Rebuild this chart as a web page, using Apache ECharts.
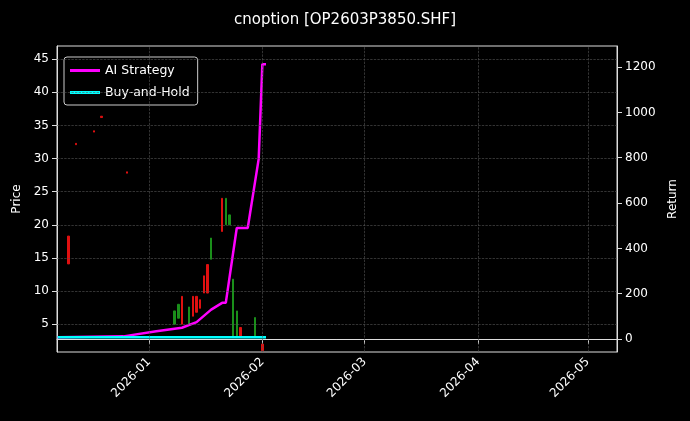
<!DOCTYPE html>
<html>
<head>
<meta charset="utf-8">
<script src="https://cdn.jsdelivr.net/npm/echarts@6/dist/echarts.min.js"></script>
<style>html,body{margin:0;background:#000;}#main{width:690px;height:421px;}</style>
</head>
<body>
<div id="main"></div>
<script>
// 蜡烛图数据: 日期, 开, 收, 低, 高
var candleDates = ['2025-12-10','2025-12-12','2025-12-17','2025-12-19','2025-12-26',
  '2026-01-08','2026-01-09','2026-01-10','2026-01-12','2026-01-13','2026-01-14','2026-01-15',
  '2026-01-16','2026-01-17','2026-01-18','2026-01-21','2026-01-22','2026-01-23','2026-01-24',
  '2026-01-25','2026-01-26','2026-01-30','2026-02-01'];
var candleOpen  = [18.3, 32.3, 34.2, 36.4, 28.0, 5.0, 5.9, 9.2, 5.0, 9.2, 9.2, 8.7, 12.3, 14.0, 14.8, 24.0, 20.0, 20.0, 3.2, 3.2, 4.5, 3.2, 2.0];
var candleClose = [14.1, 32.1, 34.0, 36.2, 27.8, 7.0, 8.0, 5.0, 7.6, 6.2, 6.8, 7.4, 9.7, 9.7, 18.0, 19.0, 24.0, 21.5, 11.8, 7.0, 3.0, 6.0, 1.0];
var candleLow   = [14.1, 32.1, 34.0, 36.2, 27.8, 5.0, 5.9, 5.0, 5.0, 6.2, 6.8, 7.4, 9.7, 9.7, 14.8, 19.0, 20.0, 20.0, 3.2, 3.2, 3.0, 3.2, 1.0];
var candleHigh  = [18.3, 32.3, 34.2, 36.4, 28.0, 7.0, 8.0, 9.2, 7.6, 9.2, 9.2, 8.7, 12.3, 14.0, 18.0, 24.0, 24.0, 21.5, 11.8, 7.0, 4.5, 6.0, 2.0];

// 收益曲线
var aiDates = ['2025-12-07','2025-12-25','2026-01-03','2026-01-10','2026-01-14','2026-01-18',
  '2026-01-21','2026-01-22','2026-01-25','2026-01-28','2026-01-31','2026-02-01','2026-02-02'];
var aiReturn = [8, 12, 35, 50, 75, 130, 160, 160, 490, 490, 795, 1213, 1213];
var bhDates = ['2025-12-07','2026-02-02'];
var bhReturn = [8, 8];

var monthTicks = ['2026-01-01','2026-02-01','2026-03-01','2026-04-01','2026-05-01'];
var priceTicks = [5, 10, 15, 20, 25, 30, 35, 40, 45];
var returnTicks = [0, 200, 400, 600, 800, 1000, 1200];

(function () {
  var myChart = echarts.init(document.getElementById('main'));
  function ts(d) { return Date.UTC(+d.slice(0, 4), +d.slice(5, 7) - 1, +d.slice(8, 10)); }
  var ticks = monthTicks.map(ts);
  var candles = candleDates.map(function (d, i) {
    return [ts(d), candleOpen[i], candleClose[i], candleLow[i], candleHigh[i]];
  });
  var gridStyle = { color: '#555', type: 'dashed', width: 0.6 };
  var option = {
    backgroundColor: '#000',
    animation: false,
    textStyle: { fontFamily: 'DejaVu Sans' },
    title: {
      text: 'cnoption [OP2603P3850.SHF]', left: 'center', top: 8,
      textStyle: { color: '#fff', fontSize: 15, fontWeight: 'normal' }
    },
    legend: {
      left: 64, top: 57, orient: 'vertical', itemGap: 9,
      backgroundColor: '#000', borderColor: '#ccc', borderWidth: 1, borderRadius: 3,
      padding: [7, 8, 6, 6], itemWidth: 30, itemHeight: 3,
      textStyle: { color: '#fff', fontSize: 12.5 },
      data: [{ name: 'AI Strategy', icon: 'rect' }, { name: 'Buy-and-Hold', icon: 'rect' }]
    },
    grid: { left: 57, right: 73, top: 46, bottom: 69, show: true, borderColor: '#ddd', borderWidth: 1 },
    xAxis: {
      type: 'value',
      min: ts('2025-12-07') - 4 * 3600e3,
      max: ts('2026-05-09'),
      axisLine: { lineStyle: { color: '#ddd' } },
      axisTick: { show: true, customValues: ticks, lineStyle: { color: '#ddd' } },
      axisLabel: {
        customValues: ticks, rotate: 45, color: '#fff', fontSize: 12,
        formatter: function (v) {
          var d = new Date(v);
          var m = d.getUTCMonth() + 1;
          return d.getUTCFullYear() + '-' + (m < 10 ? '0' : '') + m;
        }
      },
      splitLine: { show: false }
    },
    yAxis: [
      {
        type: 'value', name: 'Price', nameLocation: 'middle', nameGap: 34,
        nameTextStyle: { color: '#fff', fontSize: 12 },
        min: 0.8, max: 47,
        axisLine: { show: true, lineStyle: { color: '#ddd' } },
        axisTick: { show: true, customValues: priceTicks },
        axisLabel: { color: '#fff', fontSize: 12, customValues: priceTicks },
        splitLine: { show: false }
      },
      {
        type: 'value', name: 'Return', nameLocation: 'middle', nameGap: 47,
        nameTextStyle: { color: '#fff', fontSize: 12 },
        min: -57, max: 1293,
        axisLine: { show: true, lineStyle: { color: '#ddd' } },
        axisTick: { show: true, customValues: returnTicks },
        axisLabel: { color: '#fff', fontSize: 12, customValues: returnTicks, formatter: function (v) { return String(v); } },
        splitLine: { show: false }
      }
    ],
    series: [
      {
        type: 'candlestick', data: candles, barMaxWidth: 2, yAxisIndex: 0,
        itemStyle: { color: '#1a8f1a', color0: '#e01010', borderColor: '#1a8f1a', borderColor0: '#e01010', borderWidth: 1 },
        markLine: {
          silent: true, symbol: 'none', label: { show: false }, lineStyle: gridStyle,
          data: priceTicks.map(function (v) { return { yAxis: v }; })
        }
      },
      {
        name: 'AI Strategy', type: 'line', yAxisIndex: 1, symbol: 'none',
        data: aiDates.map(function (d, i) { return [ts(d), aiReturn[i]]; }),
        lineStyle: { color: '#ff00ff', width: 2.5 }, itemStyle: { color: '#ff00ff' }
      },
      {
        name: 'Buy-and-Hold', type: 'line', yAxisIndex: 1, symbol: 'none',
        data: bhDates.map(function (d, i) { return [ts(d), bhReturn[i]]; }),
        lineStyle: { color: '#00ffff', width: 2.5 }, itemStyle: { color: '#00ffff' },
        markLine: {
          silent: true, symbol: 'none', label: { show: false }, lineStyle: gridStyle,
          data: ticks.map(function (t) { return { xAxis: t }; })
        }
      }
    ]
  };
  myChart.setOption(option);
  window.addEventListener('resize', myChart.resize);
})();
</script>
</body>
</html>
